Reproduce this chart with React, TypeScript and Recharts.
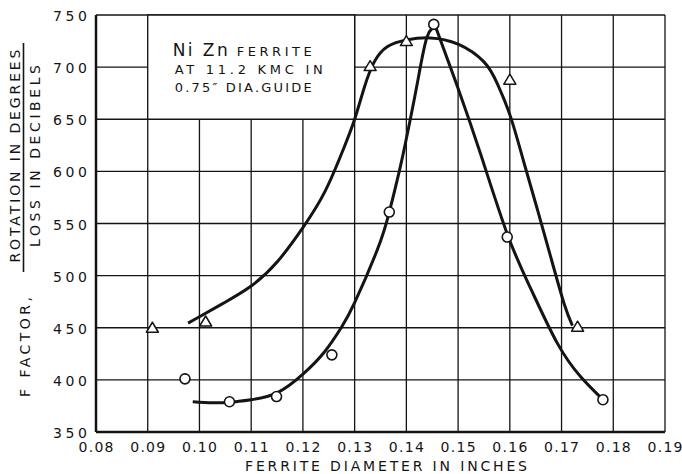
import { ComposedChart, Line, Scatter, XAxis, YAxis, CartesianGrid, ReferenceArea } from 'recharts';

// axis ticks
const xTicks = [0.08, 0.09, 0.1, 0.11, 0.12, 0.13, 0.14, 0.15, 0.16, 0.17, 0.18, 0.19];
const yTicks = [350, 400, 450, 500, 550, 600, 650, 700, 750];

// measured points (open circles)
const circleX = [0.0972, 0.1058, 0.1149, 0.1256, 0.1367, 0.1453, 0.1595, 0.178];
const circleY = [401, 379, 384, 424, 561, 741, 537, 381];

// measured points (open triangles)
const triX = [0.0909, 0.1012, 0.133, 0.14, 0.16, 0.1731];
const triY = [450, 456, 701, 725, 688, 451];

// hand drawn curve through the circles
const circleCurveX = [0.0987, 0.1025, 0.1058, 0.11, 0.115, 0.12, 0.1242, 0.1274, 0.13, 0.1344, 0.1367, 0.1389, 0.1408, 0.1424, 0.144, 0.1453, 0.146, 0.1499, 0.1544, 0.1595, 0.164, 0.1692, 0.1737, 0.1776];
const circleCurveY = [379, 378, 378.5, 381, 387.5, 405.5, 427, 450, 474, 525, 561, 606, 651, 692, 729, 739, 734, 681, 616, 540, 488, 435, 403, 383];

// hand drawn curve through the triangles
const triCurveX = [0.0978, 0.1, 0.1048, 0.11, 0.115, 0.12, 0.1243, 0.1278, 0.13, 0.1319, 0.1338, 0.1363, 0.14, 0.1446, 0.15, 0.155, 0.1576, 0.1601, 0.1627, 0.1653, 0.1679, 0.1705, 0.1721];
const triCurveY = [454.5, 460.5, 474, 490, 513, 546, 581, 621, 650, 681, 705, 719.5, 726, 728, 722, 705, 684, 653, 609, 564, 518, 473, 452];

const toPoints = (xs: number[], ys: number[]) => xs.map((x, i) => ({ x, y: ys[i] }));

const circlePts = toPoints(circleX, circleY);
const triPts = toPoints(triX, triY);
const circleCurve = toPoints(circleCurveX, circleCurveY);
const triCurve = toPoints(triCurveX, triCurveY);

const FONT = '"DejaVu Sans", Verdana, sans-serif';
const INK = '#141414';

function XTick(props: any) {
    const { x, y, payload } = props;
    return (
        <text x={x} y={y + 20} textAnchor="middle" fontFamily={FONT} fontSize={14} fill={INK}
            textLength={35} lengthAdjust="spacing">
            {Number(payload.value).toFixed(2)}
        </text>
    );
}

function YTick(props: any) {
    const { x, y, payload } = props;
    return (
        <text x={x} y={y + 6} textAnchor="end" fontFamily={FONT} fontSize={14} fill={INK}
            textLength={34} lengthAdjust="spacing">
            {payload.value}
        </text>
    );
}

const OpenCircle = (props: any) => (
    <circle cx={props.cx} cy={props.cy} r={5} fill="#fff" stroke={INK} strokeWidth={1.6} />
);

const OpenTriangle = (props: any) => {
    const { cx, cy } = props;
    const pts = `${cx - 6},${cy + 4.5} ${cx + 6},${cy + 4.5} ${cx},${cy - 5.5}`;
    return <polygon points={pts} fill="#fff" stroke={INK} strokeWidth={1.5} strokeLinejoin="round" />;
};

// text inside the white inset box, placed from the box's top-left corner
const InsetNote = (props: any) => {
    const vb = props.viewBox || { x: 0, y: 0 };
    const x0 = vb.x;
    const y0 = vb.y;
    return (
        <g fontFamily={FONT} fill={INK}>
            <text x={x0 + 25} y={y0 + 41} fontSize={17} textLength={55} lengthAdjust="spacing">Ni Zn</text>
            <text x={x0 + 89} y={y0 + 41} fontSize={13} textLength={75} lengthAdjust="spacing">FERRITE</text>
            <text x={x0 + 27} y={y0 + 59} fontSize={13} textLength={148} lengthAdjust="spacing">AT 11.2 KMC IN</text>
            <text x={x0 + 27} y={y0 + 77} fontSize={13} textLength={137} lengthAdjust="spacing">0.75″ DIA.GUIDE</text>
        </g>
    );
};

export default function App() {
    return (
        <div style={{ position: 'absolute', left: 0, top: 0, width: 682, height: 474, background: '#fff' }}>
            <ComposedChart width={682} height={474} margin={{ top: 15, right: 17, bottom: 12, left: 40 }}>
                <CartesianGrid stroke={INK} strokeWidth={1.3} />
                <XAxis
                    type="number"
                    dataKey="x"
                    domain={[0.08, 0.19]}
                    ticks={xTicks}
                    interval={0}
                    height={30}
                    tickSize={0}
                    tickMargin={0}
                    tickLine={false}
                    axisLine={{ stroke: INK, strokeWidth: 2.5 }}
                    tick={<XTick />}
                    allowDataOverflow
                />
                <YAxis
                    type="number"
                    dataKey="y"
                    domain={[350, 750]}
                    ticks={yTicks}
                    interval={0}
                    width={56}
                    tickSize={0}
                    tickMargin={9}
                    tickLine={false}
                    axisLine={{ stroke: INK, strokeWidth: 2.5 }}
                    tick={<YTick />}
                    allowDataOverflow
                />
                <ReferenceArea x1={0.09} x2={0.13} y1={650} y2={750} fill="#fff" fillOpacity={1}
                    stroke={INK} strokeWidth={1.3} label={InsetNote} />
                <Line data={triCurve} dataKey="y" type="natural" stroke={INK} strokeWidth={3}
                    dot={false} activeDot={false} isAnimationActive={false} />
                <Line data={circleCurve} dataKey="y" type="natural" stroke={INK} strokeWidth={3}
                    dot={false} activeDot={false} isAnimationActive={false} />
                <Scatter data={triPts} dataKey="y" shape={<OpenTriangle />} isAnimationActive={false} />
                <Scatter data={circlePts} dataKey="y" shape={<OpenCircle />} isAnimationActive={false} />

                {/* y axis title: F factor = rotation / loss */}
                <text transform="translate(20,156) rotate(-90)" textAnchor="middle" fontFamily={FONT} fontSize={14}
                    fill={INK} textLength={213} lengthAdjust="spacing">ROTATION IN DEGREES</text>
                <line x1={23.5} y1={43} x2={23.5} y2={272} stroke={INK} strokeWidth={1.6} />
                <text transform="translate(39.5,156) rotate(-90)" textAnchor="middle" fontFamily={FONT} fontSize={14}
                    fill={INK} textLength={182} lengthAdjust="spacing">LOSS IN DECIBELS</text>
                <text transform="translate(30,347) rotate(-90)" textAnchor="middle" fontFamily={FONT} fontSize={14}
                    fill={INK} textLength={100} lengthAdjust="spacing">F FACTOR,</text>

                {/* x axis title */}
                <text x={245} y={471} fontFamily={FONT} fontSize={14} fill={INK} textLength={282}
                    lengthAdjust="spacing">FERRITE DIAMETER IN INCHES</text>
            </ComposedChart>
        </div>
    );
}
